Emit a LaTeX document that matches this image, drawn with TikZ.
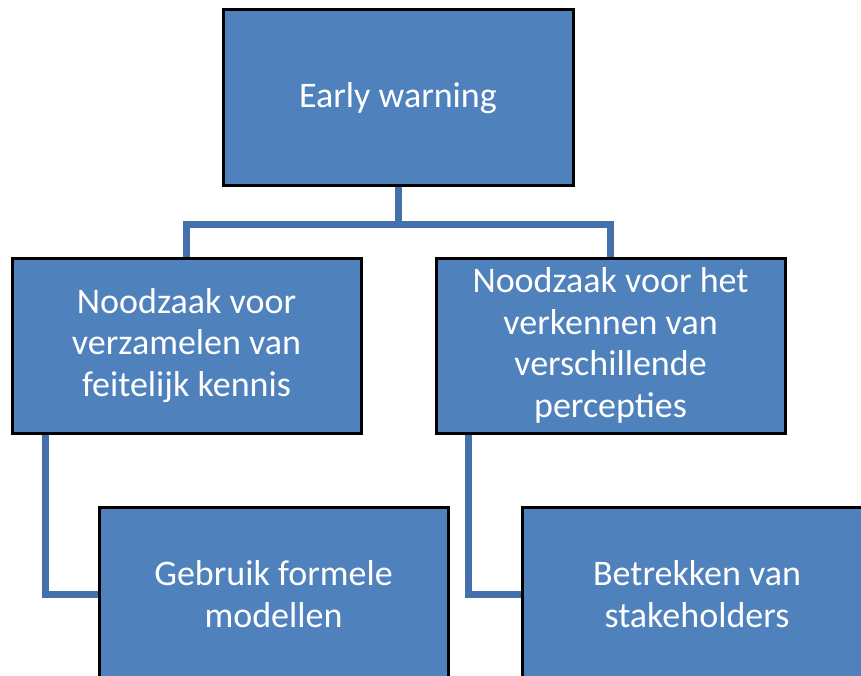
\documentclass[tikz,border=0pt]{standalone}
\usepackage{fontspec}
\setmainfont{Carlito}
\usetikzlibrary{backgrounds}
\definecolor{boxfill}{HTML}{4F81BD}
\definecolor{linkcol}{HTML}{4471AB}
\begin{document}
\begin{tikzpicture}[x=1pt,y=1pt,
  orgbox/.style={draw=black, line width=3pt, fill=boxfill, text=white,
    inner sep=0pt, align=center, font=\fontsize{36}{41.5}\selectfont},
  link/.style={draw=linkcol, line width=7pt}]
\useasboundingbox (0,0) rectangle (861,-676);
\clip (0,0) rectangle (861,-676);
\node[orgbox, minimum width=350pt, minimum height=176pt] (top) at (398,-98) {Early warning};
\node[orgbox, minimum width=349pt, minimum height=175pt] (left) at (186.5,-345.5) {Noodzaak voor\\verzamelen van\\feitelijk kennis};
\node[orgbox, minimum width=349pt, minimum height=175pt] (right) at (610.5,-345.5) {Noodzaak voor het\\verkennen van\\verschillende\\percepties};
\node[orgbox, minimum width=349pt, minimum height=174pt] (bl) at (273.5,-594) {Gebruik formele\\modellen};
\node[orgbox, minimum width=350pt, minimum height=174pt] (br) at (697,-594) {Betrekken van\\stakeholders};
\begin{scope}[on background layer]
\draw[link] (top.south) -- ++(0,-37) coordinate (hub) -| (left.north);
\draw[link] (hub) -| (right.north);
\draw[link] ([xshift=35pt]left.south west) |- (bl.west);
\draw[link] ([xshift=34pt]right.south west) |- (br.west);
\end{scope}
\end{tikzpicture}
\end{document}
